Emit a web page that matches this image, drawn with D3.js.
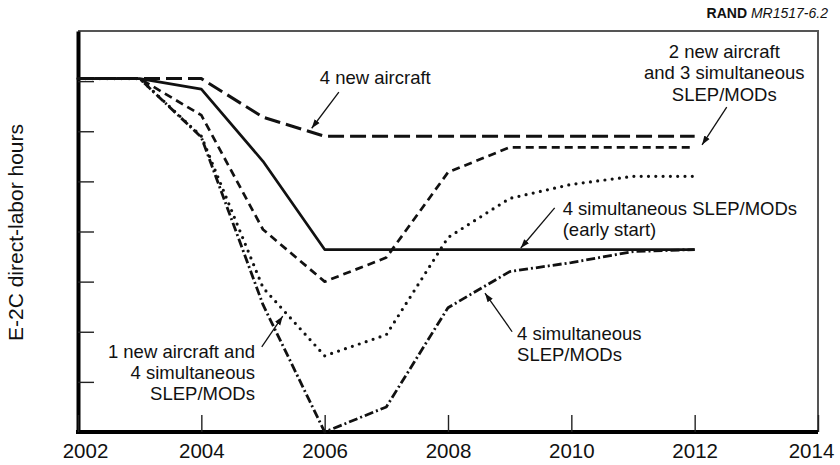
<!DOCTYPE html>
<html>
<head>
<meta charset="utf-8">
<script src="https://cdn.jsdelivr.net/npm/d3@7"></script>
<style>
  body { margin: 0; background: #fff; }
  text { font-family: "Liberation Sans", Arial, Helvetica, sans-serif; fill: #111; }
</style>
</head>
<body>
<div id="chart"></div>
<script>
const years = [2002, 2003, 2004, 2005, 2006, 2007, 2008, 2009, 2010, 2011, 2012];
const xTickYears = [2002, 2004, 2006, 2008, 2010, 2012, 2014];
const yTickValues = [1, 2, 3, 4, 5, 6, 7];

const newAircraft4 = [7.05, 7.05, 7.05, 6.28, 5.9, 5.9, 5.9, 5.9, 5.9, 5.9, 5.9];
const earlyStart = [7.05, 7.05, 6.84, 5.4, 3.64, 3.64, 3.64, 3.64, 3.64, 3.64, 3.64];
const new2Slep3 = [7.05, 7.05, 6.32, 4.04, 3.0, 3.48, 5.18, 5.68, 5.68, 5.68, 5.68];
const new1Slep4 = [7.05, 7.05, 5.9, 2.88, 1.52, 1.94, 3.88, 4.66, 4.94, 5.1, 5.1];
const slep4 = [7.05, 7.05, 5.88, 2.54, 0.0, 0.5, 2.48, 3.2, 3.38, 3.6, 3.64];

const W = 840, H = 465;
const plot = { left: 78, right: 818, top: 31, bottom: 432 };

const svg = d3.select("#chart").append("svg")
    .attr("width", W)
    .attr("height", H);

const x = d3.scaleLinear().domain([2002, 2014]).range([plot.left, plot.right]);
const y = d3.scaleLinear().domain([0, 8]).range([plot.bottom, plot.top]);

// arrow head
svg.append("defs").append("marker")
    .attr("id", "arrow")
    .attr("viewBox", "0 0 10 10")
    .attr("refX", 10).attr("refY", 5)
    .attr("markerWidth", 9).attr("markerHeight", 9)
    .attr("markerUnits", "userSpaceOnUse")
    .attr("orient", "auto")
    .append("path")
    .attr("d", "M0,1.5 L10,5 L0,8.5 Z")
    .attr("fill", "#111");

// top/right frame
svg.append("path")
    .attr("d", `M${plot.left},${plot.top}H${plot.right}V${plot.bottom}`)
    .attr("fill", "none")
    .attr("stroke", "#555")
    .attr("stroke-width", 2);

// y axis (inside ticks, no labels)
const yAxis = svg.append("g")
    .attr("transform", `translate(${plot.left},0)`)
    .call(d3.axisLeft(y).tickValues(yTickValues).tickSize(-16).tickSizeOuter(0).tickFormat(""));
yAxis.selectAll(".tick line").attr("stroke", "#222").attr("stroke-width", 1.4);
yAxis.select(".domain").attr("stroke", "#000").attr("stroke-width", 4);

// x axis
const xAxis = svg.append("g")
    .attr("transform", `translate(0,${plot.bottom})`)
    .call(d3.axisBottom(x).tickValues(xTickYears).tickSize(-17).tickSizeOuter(0).tickFormat(d3.format("d")));
xAxis.selectAll(".tick line").attr("stroke", "#222").attr("stroke-width", 1.4);
xAxis.select(".domain").attr("stroke", "#000").attr("stroke-width", 4)
    .attr("d", `M${plot.left - 2},0H${plot.right}`);
xAxis.selectAll(".tick text")
    .attr("y", 26).attr("dy", 0)
    .attr("font-size", 20.5)
    .attr("font-family", "Liberation Sans, Arial, sans-serif")
    .attr("fill", "#111")
    .attr("dx", d => d === 2002 ? 7 : d === 2014 ? -7 : 0);

// y label
svg.append("text")
    .attr("transform", `translate(23,${(plot.top + plot.bottom) / 2 + 1}) rotate(-90)`)
    .attr("text-anchor", "middle")
    .attr("font-size", 21)
    .text("E-2C direct-labor hours");

// source tag
const tag = svg.append("text")
    .attr("x", 828).attr("y", 18)
    .attr("text-anchor", "end")
    .attr("font-size", 14);
tag.append("tspan").attr("font-weight", "bold").text("RAND ");
tag.append("tspan").attr("font-style", "italic").text("MR1517-6.2");

// series
const series = [
    { name: "4 new aircraft", values: newAircraft4, dash: "16,6", width: 3, cap: "butt" },
    { name: "2 new + 3 SLEP", values: new2Slep3, dash: "8,5", width: 2.7, cap: "butt" },
    { name: "1 new + 4 SLEP", values: new1Slep4, dash: "0,7.3", width: 3.2, cap: "round" },
    { name: "4 SLEP", values: slep4, dash: "9,3,2,3", width: 2.8, cap: "butt" },
    { name: "4 SLEP early", values: earlyStart, dash: null, width: 2.7, cap: "butt" }
];

const line = d3.line()
    .x((d, i) => x(years[i]))
    .y(d => y(d));

svg.selectAll(".series")
    .data(series)
    .enter().append("path")
    .attr("class", "series")
    .attr("d", d => line(d.values))
    .attr("fill", "none")
    .attr("stroke", "#111")
    .attr("stroke-width", d => d.width)
    .attr("stroke-linecap", d => d.cap)
    .attr("stroke-linejoin", "round")
    .attr("stroke-dasharray", d => d.dash);

// annotations (positions in data units)
const notes = [
    { lines: ["4 new aircraft"], tx: 2006.82, ty: 6.94, anchor: "middle",
      from: [2006.23, 6.78], to: [2005.79, 6.06] },
    { lines: ["2 new aircraft", "and 3 simultaneous", "SLEP/MODs"], tx: 2012.48, ty: 7.46, anchor: "middle",
      from: [2012.52, 6.48], to: [2012.12, 5.73] },
    { lines: ["4 simultaneous SLEP/MODs", "(early start)"], tx: 2009.86, ty: 4.33, anchor: "start",
      from: [2009.73, 4.47], to: [2009.18, 3.67] },
    { lines: ["1 new aircraft and", "4 simultaneous", "SLEP/MODs"], tx: 2004.87, ty: 1.48, anchor: "end",
      from: [2004.98, 1.70], to: [2005.32, 2.31] },
    { lines: ["4 simultaneous", "SLEP/MODs"], tx: 2009.12, ty: 1.84, anchor: "start",
      from: [2009.04, 2.0], to: [2008.60, 2.77] }
];

notes.forEach(n => {
    const t = svg.append("text")
        .attr("text-anchor", n.anchor)
        .attr("font-size", 18.5);
    n.lines.forEach((s, i) => {
        t.append("tspan")
            .attr("x", x(n.tx))
            .attr("y", y(n.ty) + i * 21.3)
            .text(s);
    });
    svg.append("line")
        .attr("x1", x(n.from[0])).attr("y1", y(n.from[1]))
        .attr("x2", x(n.to[0])).attr("y2", y(n.to[1]))
        .attr("stroke", "#111")
        .attr("stroke-width", 1.3)
        .attr("marker-end", "url(#arrow)");
});
</script>
</body>
</html>
